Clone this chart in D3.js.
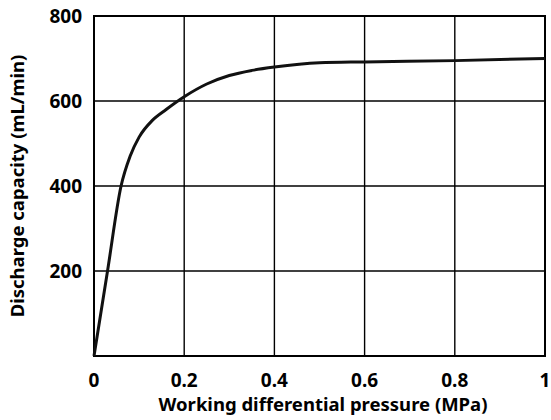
<!DOCTYPE html><html><head><meta charset="utf-8"><script src="https://cdn.jsdelivr.net/npm/d3@7"></script>
<style>body{margin:0;background:#fff}text{font-family:"Noto Sans",sans-serif;font-weight:bold}</style></head><body><svg id="c" width="551" height="420"></svg>
<script>
const pressure=[0,0.03,0.06,0.08,0.1,0.13,0.16,0.2,0.25,0.3,0.35,0.4,0.5,0.6,0.8,1.0];
const capacity=[0,200,400,470,515,555,580,610,640,660,672,680,690,692,695,700];
const xTicks=[0,0.2,0.4,0.6,0.8,1];
const yTicks=[200,400,600,800];
const svg=d3.select("#c");
const x=d3.scaleLinear().domain([0,1]).range([94,545]);
const y=d3.scaleLinear().domain([0,800]).range([356,16]);
const g=svg.append("g");
xTicks.forEach(t=>g.append("line").attr("x1",x(t)).attr("x2",x(t)).attr("y1",y(0)).attr("y2",y(800)).attr("stroke","#000").attr("stroke-width",1.4));
[0,...yTicks].forEach(t=>g.append("line").attr("x1",x(0)).attr("x2",x(1)).attr("y1",y(t)).attr("y2",y(t)).attr("stroke","#000").attr("stroke-width",1.4));
g.append("rect").attr("x",x(0)).attr("y",y(800)).attr("width",x(1)-x(0)).attr("height",y(0)-y(800)).attr("fill","none").attr("stroke","#000").attr("stroke-width",2);
xTicks.forEach(t=>svg.append("text").attr("x",x(t)).attr("y",387).attr("text-anchor","middle").attr("font-size",19).text(t===0?"0":t===1?"1":t.toFixed(1)));
yTicks.forEach(t=>svg.append("text").attr("x",82).attr("y",y(t)+7).attr("text-anchor","end").attr("font-size",19).text(t));
svg.append("text").attr("x",323).attr("y",411).attr("text-anchor","middle").attr("font-size",18.5).text("Working differential pressure (MPa)");
svg.append("text").attr("transform","translate(24,186) rotate(-90)").attr("text-anchor","middle").attr("font-size",18.5).text("Discharge capacity (mL/min)");
const line=d3.line().x((d,i)=>x(pressure[i])).y(d=>y(d)).curve(d3.curveMonotoneX);
svg.append("path").attr("d",line(capacity)).attr("fill","none").attr("stroke","#111").attr("stroke-width",3);
</script></body></html>
